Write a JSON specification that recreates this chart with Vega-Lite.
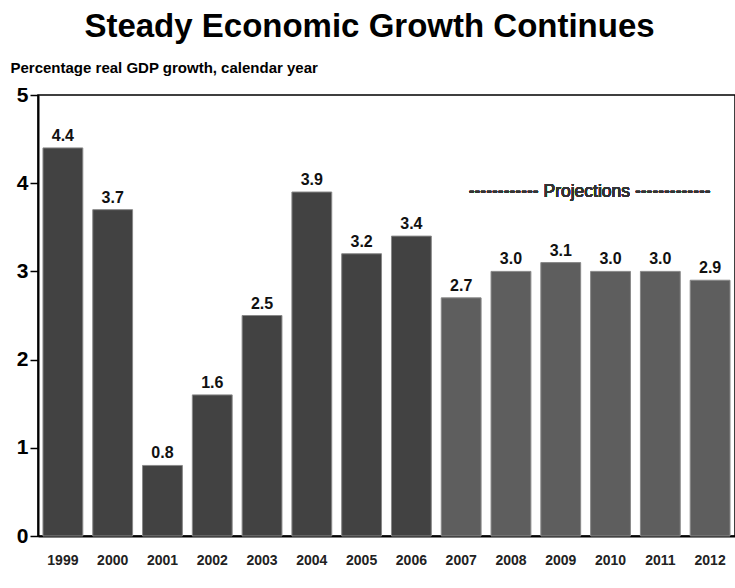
{
  "$schema": "https://vega.github.io/schema/vega-lite/v6.json",
  "autosize": "none",
  "width": 697,
  "height": 441,
  "padding": {"left": 38, "top": 95, "right": 0, "bottom": 52},
  "background": "white",
  "config": {
    "font": "Liberation Sans",
    "view": {"stroke": "#000", "strokeWidth": 1.5},
    "axis": {"grid": false}
  },
  "title": {
    "text": "Steady Economic Growth Continues",
    "fontSize": 33,
    "fontWeight": "bold",
    "color": "#000",
    "anchor": "middle",
    "frame": "group",
    "dx": -17,
    "offset": 16
  },
  "data": {
    "values": [
      {"year": "1999", "growth": 4.4, "type": "Actual"},
      {"year": "2000", "growth": 3.7, "type": "Actual"},
      {"year": "2001", "growth": 0.8, "type": "Actual"},
      {"year": "2002", "growth": 1.6, "type": "Actual"},
      {"year": "2003", "growth": 2.5, "type": "Actual"},
      {"year": "2004", "growth": 3.9, "type": "Actual"},
      {"year": "2005", "growth": 3.2, "type": "Actual"},
      {"year": "2006", "growth": 3.4, "type": "Actual"},
      {"year": "2007", "growth": 2.7, "type": "Projection"},
      {"year": "2008", "growth": 3.0, "type": "Projection"},
      {"year": "2009", "growth": 3.1, "type": "Projection"},
      {"year": "2010", "growth": 3.0, "type": "Projection"},
      {"year": "2011", "growth": 3.0, "type": "Projection"},
      {"year": "2012", "growth": 2.9, "type": "Projection"}
    ]
  },
  "encoding": {
    "x": {
      "field": "year",
      "type": "ordinal",
      "scale": {"paddingInner": 0.2, "paddingOuter": 0.1},
      "axis": {
        "title": null,
        "labelAngle": 0,
        "ticks": false,
        "labelFontSize": 14,
        "labelFontWeight": "bold",
        "labelColor": "#222",
        "labelPadding": 17,
        "domainColor": "#000",
        "domainWidth": 2
      }
    },
    "y": {
      "field": "growth",
      "type": "quantitative",
      "scale": {"domain": [0, 5], "nice": false},
      "axis": {
        "title": "Percentage real GDP growth, calendar year",
        "titleAngle": 0,
        "titleAlign": "left",
        "titleBaseline": "alphabetic",
        "titleX": -28,
        "titleY": -23,
        "titleFontSize": 15,
        "titleFontWeight": "bold",
        "titleColor": "#000",
        "values": [0, 1, 2, 3, 4, 5],
        "format": "d",
        "labelFontSize": 21,
        "labelFontWeight": "bold",
        "labelColor": "#000",
        "labelPadding": 2,
        "tickSize": 8,
        "tickColor": "#000",
        "tickWidth": 1.5,
        "domainColor": "#000",
        "domainWidth": 2
      }
    }
  },
  "layer": [
    {
      "mark": {"type": "bar", "stroke": "#888", "strokeWidth": 1},
      "encoding": {
        "color": {
          "field": "type",
          "type": "nominal",
          "scale": {"domain": ["Actual", "Projection"], "range": ["#424242", "#5e5e5e"]},
          "legend": null
        }
      }
    },
    {
      "mark": {"type": "text", "dy": -7, "baseline": "alphabetic", "fontSize": 16, "fontWeight": "bold", "color": "#111"},
      "encoding": {
        "text": {"field": "growth", "type": "quantitative", "format": ".1f"}
      }
    },
    {
      "mark": {"type": "text", "fontSize": 17.5, "color": "#333", "baseline": "middle", "align": "center", "dx": 9},
      "encoding": {
        "x": {"datum": "2009", "bandPosition": 1},
        "y": {"datum": 3.9},
        "text": {"value": "------------ Projections -------------"}
      }
    }
  ]
}
